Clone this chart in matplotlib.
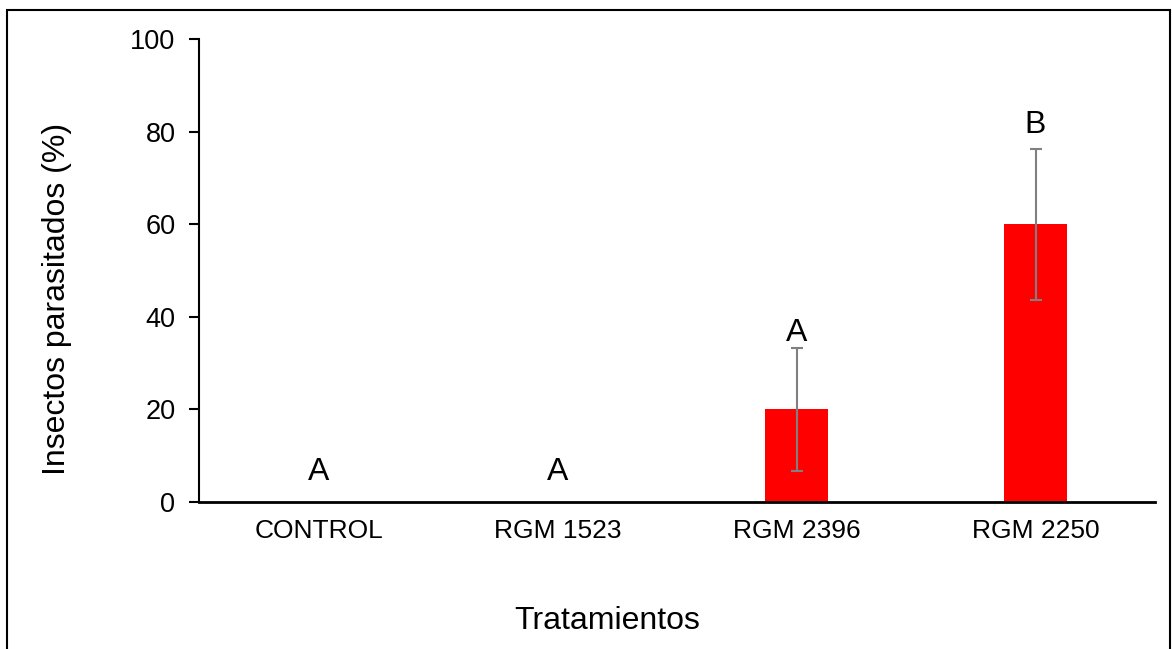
import numpy as np
import matplotlib
matplotlib.use('Agg')
import matplotlib.pyplot as plt

plt.rcParams['font.family'] = ['Liberation Sans', 'DejaVu Sans']

# data
tratamientos = ['CONTROL', 'RGM 1523', 'RGM 2396', 'RGM 2250']
parasitados = [0, 0, 20, 60]
error = [0, 0, 13.3, 16.3]
letras = ['A', 'A', 'A', 'B']
letra_y = [6.5, 6.5, 36.5, 81.5]

fig = plt.figure(figsize=(11.72, 6.49), dpi=100)
ax = fig.add_axes([199/1172, 1 - 502/649, (1155-199)/1172, (502-39)/649])

x = np.arange(len(tratamientos))
ax.bar(x, parasitados, width=0.26, color='#ff0000', zorder=2)
yerr = np.array(error)
mask = yerr > 0
ax.errorbar(x[mask], np.array(parasitados)[mask], yerr=yerr[mask], fmt='none',
            ecolor='#808080', elinewidth=1.5, capsize=4.5, capthick=1.5, zorder=3)

for i in range(len(letras)):
    ax.text(x[i], letra_y[i], letras[i], ha='center', va='center', fontsize=23)

ax.set_xlim(-0.5, 3.5)
ax.set_ylim(0, 100)
ax.set_yticks([0, 20, 40, 60, 80, 100])
ax.set_xticks(x)
ax.set_xticklabels(tratamientos)
ax.tick_params(axis='y', labelsize=19.5, length=7, width=1.5, direction='out', pad=10)
ax.tick_params(axis='x', labelsize=19, length=0, pad=12)
ax.spines['top'].set_visible(False)
ax.spines['right'].set_visible(False)
ax.spines['left'].set_linewidth(1.5)
ax.spines['bottom'].set_linewidth(2)

# axis titles sit where the original put them, not centred on the axes
fig.text(57/1172, 1 - 299/649, 'Insectos parasitados (%)', rotation=90,
         ha='center', va='center', fontsize=23)
fig.text(607/1172, 1 - 621/649, 'Tratamientos', ha='center', va='center', fontsize=23)

# border round the whole figure
fig.patches.append(plt.Rectangle((7/1172, -0.01), 1163/1172, 1.01 - 10/649, transform=fig.transFigure,
                                 fill=False, edgecolor='black', linewidth=1.5))

fig.savefig('out.png', dpi=100)
